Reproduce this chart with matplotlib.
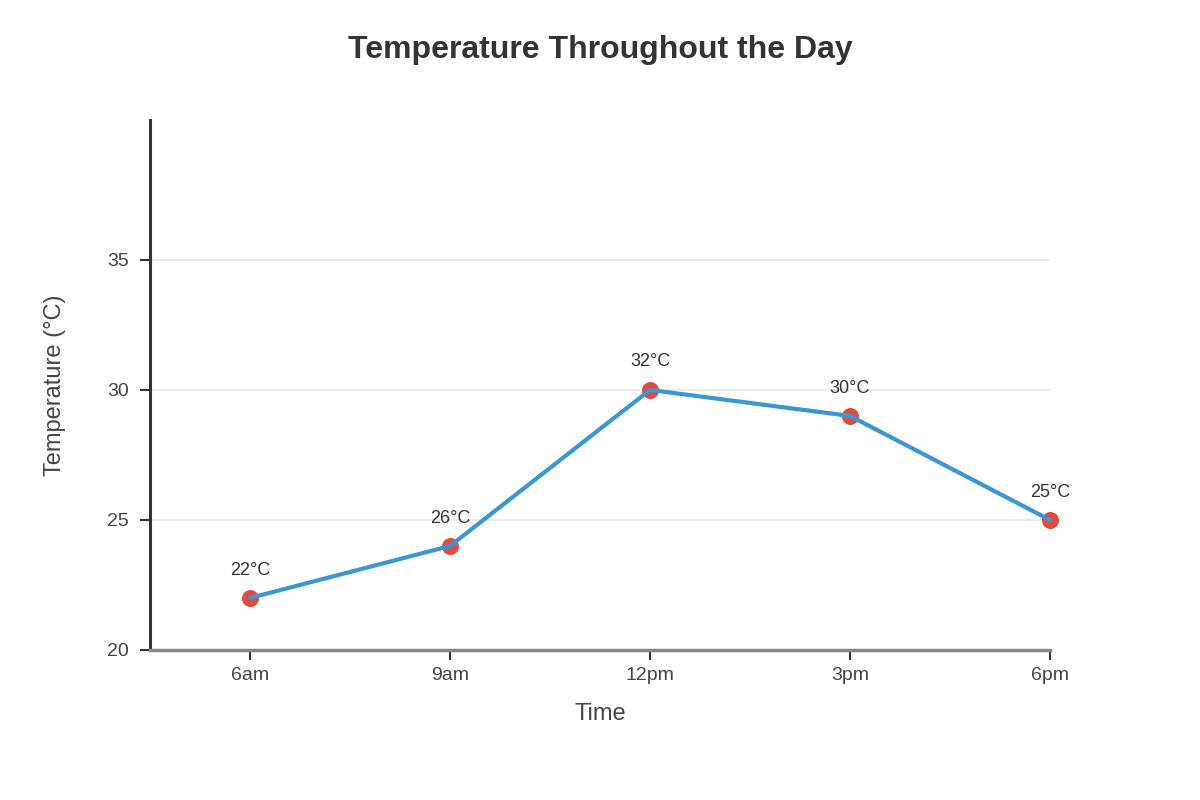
import matplotlib
matplotlib.use("Agg")
import matplotlib.pyplot as plt

times = ["6am", "9am", "12pm", "3pm", "6pm"]
temps = [22, 24, 30, 29, 25]
labels = ["22°C", "26°C", "32°C", "30°C", "25°C"]
yticks = [20, 25, 30, 35]

plt.rcParams['font.family'] = ['Liberation Sans', 'DejaVu Sans']

fig = plt.figure(figsize=(12, 8), dpi=100)
ax = fig.add_axes([0.125, 0.1875, 0.75, 0.6625])

x = list(range(len(times)))
ax.plot(x, temps, color="#3a96d4", linewidth=3, zorder=4, solid_capstyle='round',
        clip_on=False)
ax.scatter(x, temps, s=150, color="#e04b3c", zorder=3, linewidths=0, clip_on=False)
for xi, yi, lab in zip(x, temps, labels):
    ax.annotate(lab, (xi, yi), xytext=(0, 14), textcoords="offset points",
                ha="center", va="bottom", fontsize=13, color="#333333")

ax.set_xlim(-0.5, 4)
ax.set_ylim(20, 40.38)
ax.set_xticks(x)
ax.set_xticklabels(times)
ax.set_yticks(yticks)
for t in yticks[1:]:
    ax.axhline(t, color="#e6e6e6", linewidth=1.2, zorder=1)

for s in ["top", "right"]:
    ax.spines[s].set_visible(False)
ax.spines["left"].set_color("#333333")
ax.spines["left"].set_linewidth(2.2)
ax.spines["bottom"].set_color("#888888")
ax.spines["bottom"].set_linewidth(2.5)
ax.spines["left"].set_zorder(5)
ax.spines["bottom"].set_zorder(5)

ax.tick_params(axis="x", length=7, width=1.5, color="#333333", labelsize=14,
               labelcolor="#444444", pad=5)
ax.tick_params(axis="y", length=7, width=1.5, color="#333333", labelsize=14,
               labelcolor="#444444", pad=8)

ax.set_xlabel("Time", fontsize=17, color="#444444", labelpad=14)
ax.set_ylabel("Temperature (°C)", fontsize=17, color="#444444", labelpad=30)
fig.suptitle("Temperature Throughout the Day", fontsize=23, fontweight="bold",
             color="#333333", y=0.9375, va="center")

fig.savefig("out.png", dpi=100, facecolor="white")
